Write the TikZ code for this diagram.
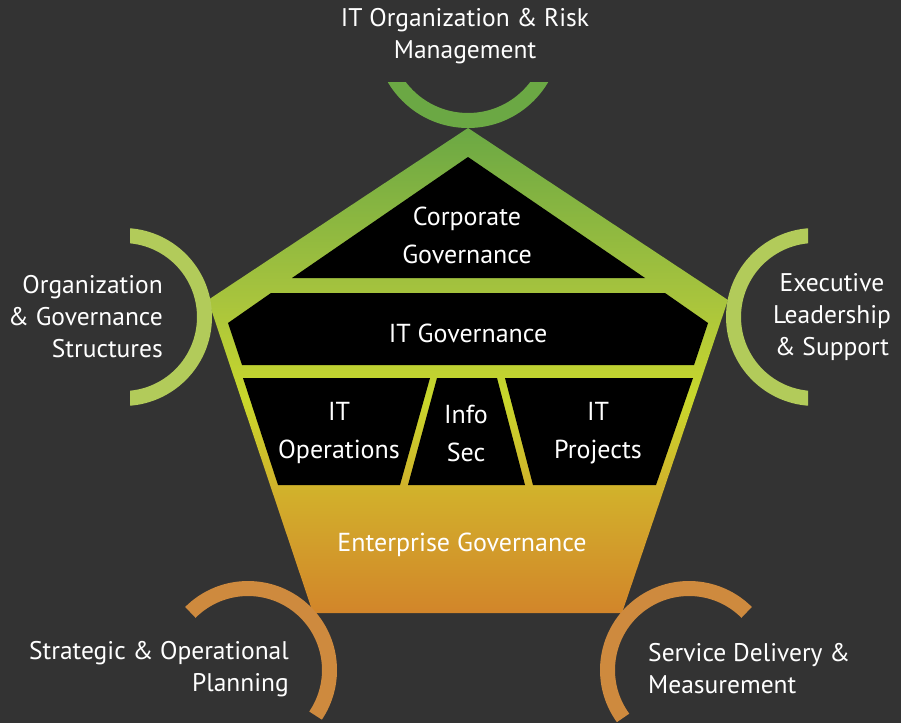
\documentclass[tikz,border=0pt]{standalone}
\usepackage{fontspec}
\setmainfont{PT Sans}
\usetikzlibrary{positioning}

\definecolor{bgdark}{HTML}{333333}
\definecolor{leafgreen}{HTML}{6BA844}
\definecolor{limegreen}{HTML}{A8C43D}
\definecolor{limeyellow}{HTML}{C9D72C}
\definecolor{goldtone}{HTML}{D2AD2B}
\definecolor{orangetone}{HTML}{D2852A}
\definecolor{arcgreen}{HTML}{6BA844}
\definecolor{arclime}{HTML}{B2CB5A}
\definecolor{arcorange}{HTML}{CE8A3E}

\pgfdeclareverticalshading{houseshade}{100bp}{color(0bp)=(orangetone); color(25bp)=(orangetone); color(36.6bp)=(goldtone); color(47bp)=(limeyellow); color(57.3bp)=(limegreen); color(75bp)=(leafgreen); color(100bp)=(leafgreen)}

\tikzset{
  outertext/.style={text=white, font=\fontsize{25.5}{32}\selectfont, align=center, inner sep=0pt},
  innertext/.style={text=white, font=\fontsize{26}{38}\selectfont, align=center, inner sep=0pt},
  block/.style={fill=black},
  ring/.style={line width=15pt}
}

\begin{document}
\begin{tikzpicture}[x=1pt,y=-1pt]
    % Background
    \fill[bgdark] (0,0) rectangle (901,723);
    \useasboundingbox (0,0) rectangle (901,723);

    % Pentagon
    \shade[shading=houseshade] (468,128) -- (728,300) -- (622,613) -- (313,613) -- (208,300) -- cycle;

    % Black blocks
    \fill[block] (468,157) -- (645,278) -- (292,278) -- cycle;
    \fill[block] (271,293) -- (665,293) -- (708,323) -- (694,365) -- (242,365) -- (228,323) -- cycle;
    \fill[block] (243,378) -- (430,378) -- (400,485) -- (278,485) -- cycle;
    \fill[block] (437,378) -- (497,378) -- (525,485) -- (408,485) -- cycle;
    \fill[block] (505,378) -- (693,378) -- (656,485) -- (533,485) -- cycle;

    % Arcs
    \begin{scope}
      \clip (300,82) rectangle (640,200);
      \draw[ring, arcgreen] (468,35) circle[radius=85.5];
    \end{scope}
    \begin{scope}
      \clip (130,200) rectangle (260,450);
      \draw[ring, arclime] (123,317) circle[radius=81.5];
    \end{scope}
    \begin{scope}
      \clip (700,200) rectangle (808,450);
      \draw[ring, arclime] (815,317) circle[radius=81.5];
    \end{scope}
    \draw[ring, arcorange] ([shift={(225:81.5)}]248,670) arc[start angle=225, end angle=394, radius=81.5];
    \draw[ring, arcorange] ([shift={(144:81.5)}]689,670) arc[start angle=144, end angle=315, radius=81.5];

    % Outer labels
    \node[outertext] (riskmgmt) at (465,36) {IT Organization \& Risk\\Management};
    \node[outertext, align=right, anchor=east] (orgstruct) at (163,317) {Organization\\\& Governance\\Structures};
    \node[outertext] (execlead) at (832,317) {Executive\\Leadership\\\& Support};
    \node[outertext, align=right, anchor=east] (stratplan) at (289,669) {Strategic \& Operational\\Planning};
    \node[outertext, align=left, anchor=west] (servdeliv) at (648,669) {Service Delivery \&\\Measurement};

    % Inner labels
    \node[innertext] (corpgov) at (467,235) {Corporate\\Governance};
    \node[innertext] (itgov) at (468,333) {IT Governance};
    \node[innertext] (itops) at (339,433) {IT\\Operations};
    \node[innertext] (infosec) at (466,433) {Info\\Sec};
    \node[innertext] (itproj) at (598,433) {IT\\Projects};
    \node[innertext] (entgov) at (462,545) {Enterprise Governance};
\end{tikzpicture}
\end{document}
